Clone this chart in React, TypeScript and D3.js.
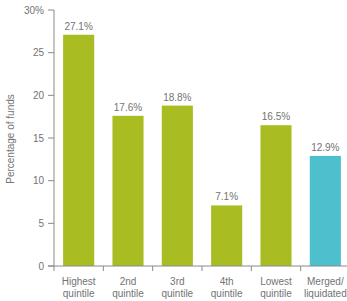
import React from "react";
import * as d3 from "d3";

const categories = ["Highest|quintile", "2nd|quintile", "3rd|quintile", "4th|quintile", "Lowest|quintile", "Merged/|liquidated"];
const values = [27.1, 17.6, 18.8, 7.1, 16.5, 12.9];
const barColors = ["#a9bd22", "#a9bd22", "#a9bd22", "#a9bd22", "#a9bd22", "#4ebfcc"];
const yTicks = [0, 5, 10, 15, 20, 25, 30];
const yTickLabels = ["0", "5", "10", "15", "20", "25", "30%"];

const W = 347;
const H = 301;
const FONT = "'Liberation Sans', Arial, sans-serif";
const TEXT = "#737373";
const AXIS = "#8a8a8a";

export default function App() {
  const x = d3.scaleBand<string>().domain(categories).range([54, 350]).paddingInner(0.37).paddingOuter(0.185);
  const y = d3.scaleLinear().domain([0, 30]).range([266, 10]);
  const step = x.step();
  const x0 = 54;

  return (
    <svg width={W} height={H} style={{ position: "absolute", left: 0, top: 0, background: "#fff" }} fontFamily={FONT}>
      {categories.map((c, i) => {
        const bx = x(c)!;
        const by = y(values[i]);
        return (
          <g key={c}>
            <rect x={bx} y={by} width={x.bandwidth()} height={y(0) - by} fill={barColors[i]} />
            <text x={bx + x.bandwidth() / 2} y={by - 5} textAnchor="middle" fontSize={10} fill={TEXT}>
              {values[i].toFixed(1)}%
            </text>
            {c.split("|").map((line, j) => (
              <text key={j} x={bx + x.bandwidth() / 2} y={284.5 + j * 12} textAnchor="middle" fontSize={10} fill={TEXT}>
                {line}
              </text>
            ))}
          </g>
        );
      })}
      {/* y axis */}
      <line x1={x0} x2={x0} y1={y(30)} y2={y(0) + 5} stroke={AXIS} strokeWidth={1} />
      {yTicks.map((t, i) => (
        <g key={t}>
          <line x1={x0 - 6} x2={x0} y1={y(t)} y2={y(t)} stroke={AXIS} strokeWidth={1} />
          <text x={x0 - 10} y={y(t)} dy="0.35em" textAnchor="end" fontSize={10} fill={TEXT}>
            {yTickLabels[i]}
          </text>
        </g>
      ))}
      {/* x axis */}
      <line x1={x0 - 6} x2={W} y1={y(0)} y2={y(0)} stroke={AXIS} strokeWidth={1} />
      {categories.slice(1).map((c, i) => (
        <line key={c} x1={x0 + step * (i + 1)} x2={x0 + step * (i + 1)} y1={y(0)} y2={y(0) + 5} stroke={AXIS} strokeWidth={1} />
      ))}
      <text transform={`translate(14,${139}) rotate(-90)`} textAnchor="middle" fontSize={10} fill={TEXT}>
        Percentage of funds
      </text>
    </svg>
  );
}
